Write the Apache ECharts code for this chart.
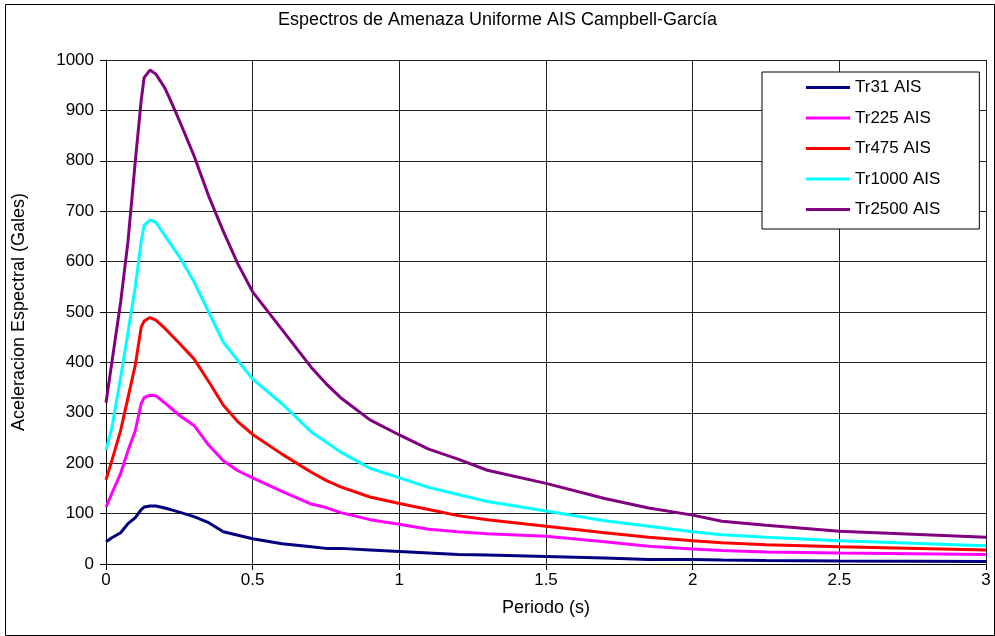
<!DOCTYPE html>
<html>
<head>
<meta charset="utf-8">
<script src="https://cdn.jsdelivr.net/npm/echarts@6/dist/echarts.min.js"></script>
<style>html,body{margin:0;padding:0;background:#fff;}#c{width:995px;height:636px;}</style>
</head>
<body>
<div id="c"></div>
<script>
const periods = [0, 0.02, 0.05, 0.075, 0.1, 0.12, 0.13, 0.15, 0.17, 0.2, 0.22, 0.25, 0.3, 0.35, 0.4, 0.45, 0.5, 0.6, 0.7, 0.75, 0.8, 0.9, 1.0, 1.1, 1.2, 1.3, 1.5, 1.7, 1.85, 2.0, 2.1, 2.25, 2.5, 3.0];
const tr31   = [44, 52, 62, 80, 92, 108, 113, 115, 115, 111, 108, 103, 94, 82, 64, 57, 50, 40, 34, 31, 31, 28, 25, 22, 19, 18, 15, 12, 9, 9, 8, 7, 6, 5];
const tr225  = [113, 140, 180, 225, 265, 318, 330, 335, 334, 320, 310, 295, 275, 236, 205, 185, 171, 144, 119, 112, 102, 88, 79, 69, 64, 60, 55, 44, 35, 30, 27, 24, 22, 19];
const tr475  = [167, 205, 265, 330, 395, 470, 482, 489, 484, 468, 456, 438, 407, 362, 315, 282, 257, 218, 182, 166, 153, 133, 120, 108, 96, 88, 75, 62, 53, 46, 42, 38, 34, 28];
const tr1000 = [226, 270, 370, 460, 550, 640, 672, 683, 678, 652, 635, 610, 560, 500, 440, 403, 367, 318, 262, 242, 222, 190, 171, 152, 138, 124, 105, 86, 75, 64, 58, 53, 46, 36];
const tr2500 = [320, 400, 520, 640, 800, 920, 965, 980, 972, 945, 920, 880, 810, 730, 660, 595, 540, 465, 390, 358, 330, 286, 256, 228, 208, 186, 160, 130, 111, 97, 85, 77, 65, 53];
const seriesNames = ['Tr31 AIS', 'Tr225 AIS', 'Tr475 AIS', 'Tr1000 AIS', 'Tr2500 AIS'];
const seriesColors = ['#000080', '#FF00FF', '#FF0000', '#00FFFF', '#800080'];
const seriesData = [tr31, tr225, tr475, tr1000, tr2500];

const font = 'Liberation Sans, Arial, sans-serif';
const chart = echarts.init(document.getElementById('c'), null, {renderer: 'canvas'});
chart.setOption({
  backgroundColor: '#fff',
  animation: false,
  title: {
    text: 'Espectros de Amenaza Uniforme AIS Campbell-García',
    left: 'center', top: 6,
    textStyle: {fontFamily: font, fontSize: 18, fontWeight: 'normal', color: '#000'}
  },
  graphic: [{
    type: 'rect', left: 3, top: 2, z: -1,
    shape: {width: 989, height: 631},
    style: {fill: 'none', stroke: '#000', lineWidth: 1}
  }],
  legend: {
    orient: 'vertical', left: 762, top: 72,
    padding: [6, 39, 10, 44],
    itemWidth: 44, itemHeight: 3, itemGap: 11.5,
    icon: 'rect',
    borderColor: '#000', borderWidth: 1, backgroundColor: '#fff',
    textStyle: {fontFamily: font, fontSize: 17, color: '#000', lineHeight: 19},
    data: seriesNames
  },
  grid: {left: 106, top: 60, right: 9, bottom: 72, containLabel: false},
  xAxis: {
    type: 'value', min: 0, max: 3, interval: 0.5,
    name: 'Periodo (s)', nameLocation: 'middle', nameGap: 35,
    nameTextStyle: {fontFamily: font, fontSize: 18, color: '#000'},
    axisLine: {show: true, onZero: false, lineStyle: {color: '#000', width: 1}},
    axisTick: {show: true, length: 6, lineStyle: {color: '#000'}},
    axisLabel: {fontFamily: font, fontSize: 17, color: '#000', margin: 8},
    splitLine: {show: true, lineStyle: {color: '#222', width: 1}}
  },
  yAxis: {
    type: 'value', min: 0, max: 1000, interval: 100,
    name: 'Aceleracion Espectral (Gales)', nameLocation: 'middle', nameGap: 78,
    nameTextStyle: {fontFamily: font, fontSize: 18, color: '#000'},
    axisLine: {show: true, lineStyle: {color: '#000', width: 1}},
    axisTick: {show: true, length: 6, lineStyle: {color: '#000'}},
    axisLabel: {fontFamily: font, fontSize: 17, color: '#000', margin: 12, formatter: v => String(v)},
    splitLine: {show: true, lineStyle: {color: '#222', width: 1}}
  },
  series: seriesNames.map((n, i) => ({
    name: n, type: 'line', showSymbol: false, symbol: 'none', smooth: false,
    color: seriesColors[i],
    lineStyle: {width: 3, color: seriesColors[i]},
    data: periods.map((p, j) => [p, seriesData[i][j]])
  }))
});
</script>
</body>
</html>
